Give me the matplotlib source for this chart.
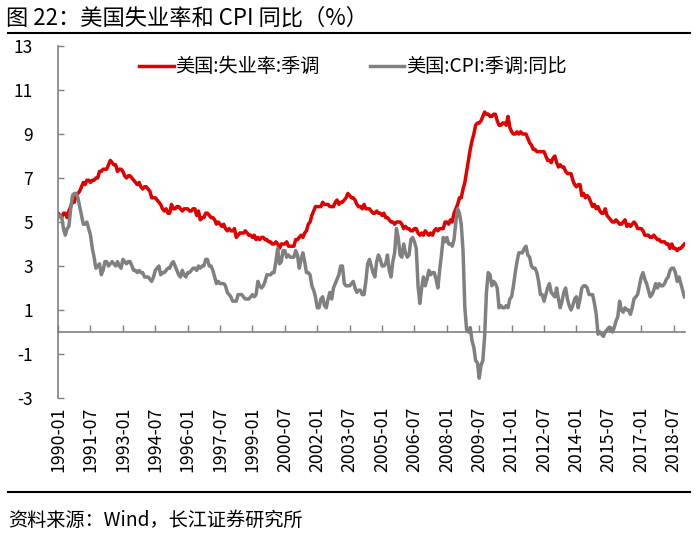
import matplotlib
matplotlib.use("Agg")
import matplotlib.pyplot as plt
import numpy as np
import pandas as pd

plt.rcParams['font.family'] = ['Noto Sans CJK SC', 'DejaVu Sans']

# Monthly data 1990-01 .. 2019-01
unemp = [
    5.4, 5.3, 5.2, 5.4, 5.4, 5.2, 5.5, 5.7, 5.9, 5.9, 6.2, 6.3,
    6.4, 6.6, 6.8, 6.7, 6.9, 6.9, 6.8, 6.9, 6.9, 7.0, 7.0, 7.3,
    7.3, 7.4, 7.4, 7.4, 7.6, 7.8, 7.7, 7.6, 7.6, 7.3, 7.4, 7.4,
    7.3, 7.1, 7.0, 7.1, 7.1, 7.0, 6.9, 6.8, 6.7, 6.8, 6.6, 6.5,
    6.6, 6.6, 6.5, 6.4, 6.1, 6.1, 6.1, 6.0, 5.9, 5.8, 5.6, 5.5,
    5.6, 5.4, 5.4, 5.8, 5.6, 5.6, 5.7, 5.7, 5.6, 5.5, 5.6, 5.6,
    5.6, 5.5, 5.5, 5.6, 5.6, 5.3, 5.5, 5.1, 5.2, 5.2, 5.4, 5.4,
    5.3, 5.2, 5.2, 5.1, 4.9, 5.0, 4.9, 4.8, 4.9, 4.7, 4.6, 4.7,
    4.6, 4.6, 4.7, 4.3, 4.4, 4.5, 4.5, 4.5, 4.6, 4.5, 4.4, 4.4,
    4.3, 4.4, 4.2, 4.3, 4.2, 4.3, 4.3, 4.2, 4.2, 4.1, 4.1, 4.0,
    4.0, 4.1, 4.0, 3.8, 4.0, 4.0, 4.0, 4.1, 3.9, 3.9, 3.9, 3.9,
    4.2, 4.2, 4.3, 4.4, 4.3, 4.5, 4.6, 4.9, 5.0, 5.3, 5.5, 5.7,
    5.7, 5.7, 5.7, 5.9, 5.8, 5.8, 5.8, 5.7, 5.7, 5.7, 5.9, 6.0,
    5.8, 5.9, 5.9, 6.0, 6.1, 6.3, 6.2, 6.1, 6.1, 6.0, 5.8, 5.7,
    5.7, 5.6, 5.8, 5.6, 5.6, 5.6, 5.5, 5.4, 5.4, 5.5, 5.4, 5.4,
    5.3, 5.4, 5.2, 5.2, 5.1, 5.0, 5.0, 4.9, 5.0, 5.0, 5.0, 4.9,
    4.7, 4.8, 4.7, 4.7, 4.6, 4.6, 4.7, 4.7, 4.5, 4.4, 4.5, 4.4,
    4.6, 4.5, 4.4, 4.5, 4.4, 4.6, 4.7, 4.6, 4.7, 4.7, 4.7, 5.0,
    5.0, 4.9, 5.1, 5.0, 5.4, 5.6, 5.8, 6.1, 6.1, 6.5, 6.8, 7.3,
    7.8, 8.3, 8.7, 9.0, 9.4, 9.5, 9.5, 9.6, 9.8, 10.0, 9.9, 9.9,
    9.8, 9.8, 9.9, 9.9, 9.6, 9.4, 9.4, 9.5, 9.5, 9.4, 9.8, 9.3,
    9.1, 9.0, 9.0, 9.1, 9.0, 9.1, 9.0, 9.0, 9.0, 8.8, 8.6, 8.5,
    8.3, 8.3, 8.2, 8.2, 8.2, 8.2, 8.2, 8.0, 7.8, 7.8, 7.7, 7.9,
    8.0, 7.7, 7.5, 7.6, 7.5, 7.5, 7.3, 7.2, 7.2, 7.2, 6.9, 6.7,
    6.6, 6.7, 6.7, 6.2, 6.3, 6.1, 6.2, 6.1, 5.9, 5.7, 5.8, 5.6,
    5.7, 5.5, 5.4, 5.4, 5.6, 5.3, 5.2, 5.1, 5.0, 5.0, 5.1, 5.0,
    4.9, 4.9, 5.0, 5.1, 4.8, 4.9, 4.8, 4.9, 5.0, 4.9, 4.7, 4.7,
    4.7, 4.6, 4.4, 4.4, 4.4, 4.3, 4.3, 4.4, 4.3, 4.2, 4.2, 4.1,
    4.1, 4.1, 4.0, 4.0, 3.8, 4.0, 3.8, 3.8, 3.7, 3.8, 3.8, 3.9,
    4.0,
]

cpi = [
    5.2, 5.3, 5.2, 4.7, 4.4, 4.7, 4.8, 5.6, 6.2, 6.3, 6.3, 6.1,
    5.7, 5.3, 4.9, 4.9, 5.0, 4.7, 4.4, 3.8, 3.4, 2.9, 3.0, 3.1,
    2.6, 2.8, 3.2, 3.2, 3.0, 3.1, 3.2, 3.1, 3.0, 3.2, 3.0, 2.9,
    3.3, 3.2, 3.1, 3.2, 3.2, 3.0, 2.8, 2.8, 2.7, 2.8, 2.7, 2.7,
    2.5, 2.5, 2.5, 2.4, 2.3, 2.5, 2.8, 2.9, 3.0, 2.6, 2.7, 2.7,
    2.8, 2.9, 2.9, 3.1, 3.2, 3.0, 2.8, 2.6, 2.5, 2.8, 2.6, 2.5,
    2.7, 2.7, 2.8, 2.9, 2.9, 2.8, 3.0, 2.9, 3.0, 3.0, 3.3, 3.3,
    3.0, 3.0, 2.8, 2.5, 2.2, 2.3, 2.2, 2.2, 2.2, 2.1, 1.8, 1.7,
    1.6, 1.4, 1.4, 1.4, 1.7, 1.7, 1.7, 1.6, 1.5, 1.5, 1.5, 1.6,
    1.7, 1.6, 1.7, 2.3, 2.1, 2.0, 2.1, 2.3, 2.6, 2.6, 2.6, 2.7,
    2.7, 3.2, 3.8, 3.1, 3.2, 3.7, 3.7, 3.4, 3.5, 3.4, 3.4, 3.4,
    3.7, 3.5, 2.9, 3.3, 3.6, 3.2, 2.7, 2.7, 2.6, 2.1, 1.9, 1.6,
    1.1, 1.1, 1.5, 1.6, 1.2, 1.1, 1.5, 1.8, 1.5, 2.0, 2.2, 2.4,
    2.6, 3.0, 3.0, 2.2, 2.1, 2.1, 2.1, 2.2, 2.3, 2.0, 1.8, 1.9,
    1.9, 1.7, 1.7, 2.3, 3.1, 3.3, 3.0, 2.7, 2.5, 3.2, 3.5, 3.3,
    3.0, 3.0, 3.1, 3.5, 2.8, 2.5, 3.2, 3.6, 4.7, 4.3, 3.5, 3.4,
    4.0, 3.6, 3.4, 3.5, 4.2, 4.3, 4.1, 3.8, 2.1, 1.3, 2.0, 2.5,
    2.1, 2.4, 2.8, 2.6, 2.7, 2.7, 2.4, 2.0, 2.8, 3.5, 4.3, 4.1,
    4.3, 4.0, 4.0, 3.9, 4.2, 5.0, 5.6, 5.4, 4.9, 3.7, 1.1, 0.1,
    0.0, 0.2, -0.4, -0.7, -1.3, -1.4, -2.1, -1.5, -1.3, -0.2, 1.8, 2.7,
    2.6, 2.1, 2.3, 2.2, 2.0, 1.1, 1.2, 1.1, 1.1, 1.2, 1.1, 1.5,
    1.6, 2.1, 2.7, 3.2, 3.6, 3.6, 3.6, 3.8, 3.9, 3.5, 3.4, 3.0,
    2.9, 2.9, 2.7, 2.3, 1.7, 1.7, 1.4, 1.7, 2.0, 2.2, 1.8, 1.7,
    1.6, 2.0, 1.5, 1.1, 1.4, 1.8, 2.0, 1.5, 1.2, 1.0, 1.2, 1.5,
    1.6, 1.1, 1.5, 2.0, 2.1, 2.1, 2.0, 1.7, 1.7, 1.7, 1.3, 0.8,
    -0.1, 0.0, -0.1, -0.2, 0.0, 0.1, 0.2, 0.2, 0.0, 0.2, 0.5, 0.7,
    1.4, 1.0, 0.9, 1.1, 1.0, 1.0, 0.8, 1.1, 1.5, 1.6, 1.7, 2.1,
    2.5, 2.7, 2.4, 2.2, 1.9, 1.6, 1.7, 1.9, 2.2, 2.0, 2.2, 2.1,
    2.1, 2.2, 2.4, 2.5, 2.8, 2.9, 2.9, 2.7, 2.3, 2.5, 2.2, 1.9,
    1.6,
]

dates = pd.period_range('1990-01', periods=len(unemp), freq='M')
date_labels = [d.strftime('%Y-%m') for d in dates]
tick_labels = ['1990-01', '1991-07', '1993-01', '1994-07', '1996-01', '1997-07',
               '1999-01', '2000-07', '2002-01', '2003-07', '2005-01', '2006-07',
               '2008-01', '2009-07', '2011-01', '2012-07', '2014-01', '2015-07',
               '2017-01', '2018-07']
yticks = [-3, -1, 1, 3, 5, 7, 9, 11, 13]

RED = '#E00000'
GRAY = '#808080'

fig = plt.figure(figsize=(7.0, 5.42), dpi=100)
ax = fig.add_axes([0.083, 0.2657, 0.896, 0.6494])

x = np.arange(len(unemp))
ax.plot(x, unemp, color=RED, lw=2.5, label='美国:失业率:季调', solid_joinstyle='round')
ax.plot(x, cpi, color=GRAY, lw=2.5, label='美国:CPI:季调:同比', solid_joinstyle='round')

ax.set_ylim(-3, 13)
ax.set_xlim(0, len(unemp) - 0.5)
ax.set_yticks(yticks)
ax.set_yticklabels([str(v) for v in yticks], fontsize=12.5)
ax.tick_params(axis='y', direction='in', length=4, width=1, color=GRAY, pad=18)

for s in ['top', 'right']:
    ax.spines[s].set_visible(False)
ax.spines['left'].set_color(GRAY)
ax.spines['left'].set_linewidth(1.2)
ax.spines['bottom'].set_position(('data', 0))
ax.spines['bottom'].set_color(GRAY)
ax.spines['bottom'].set_linewidth(1.2)

tick_pos = [date_labels.index(t) for t in tick_labels]
ax.set_xticks(tick_pos)
ax.set_xticklabels([''] * len(tick_pos))
ax.tick_params(axis='x', direction='in', length=5, width=1, color=GRAY)

sec = ax.secondary_xaxis('bottom')
sec.set_xticks(tick_pos)
sec.set_xticklabels(tick_labels, rotation=90, fontsize=12.8)
sec.tick_params(length=0, pad=6)
sec.spines['bottom'].set_visible(False)

leg = ax.legend(loc='upper center', bbox_to_anchor=(0.47, 1.02), ncol=2, frameon=False,
                fontsize=13.8, handlelength=1.8, handletextpad=0.1, columnspacing=2.6)

fig.text(0.008, 0.966, '图 22：美国失业率和 CPI 同比（%）', fontsize=16, va='center', ha='left')
fig.add_artist(plt.Line2D([0.011, 0.986], [0.939, 0.939], color='black', lw=1.5,
                          transform=fig.transFigure))
fig.add_artist(plt.Line2D([0.011, 0.986], [0.092, 0.092], color='black', lw=1.5,
                          transform=fig.transFigure))
fig.text(0.011, 0.040, '资料来源：Wind，长江证券研究所', fontsize=13.8, va='center', ha='left')

fig.savefig('out.png', dpi=100)
